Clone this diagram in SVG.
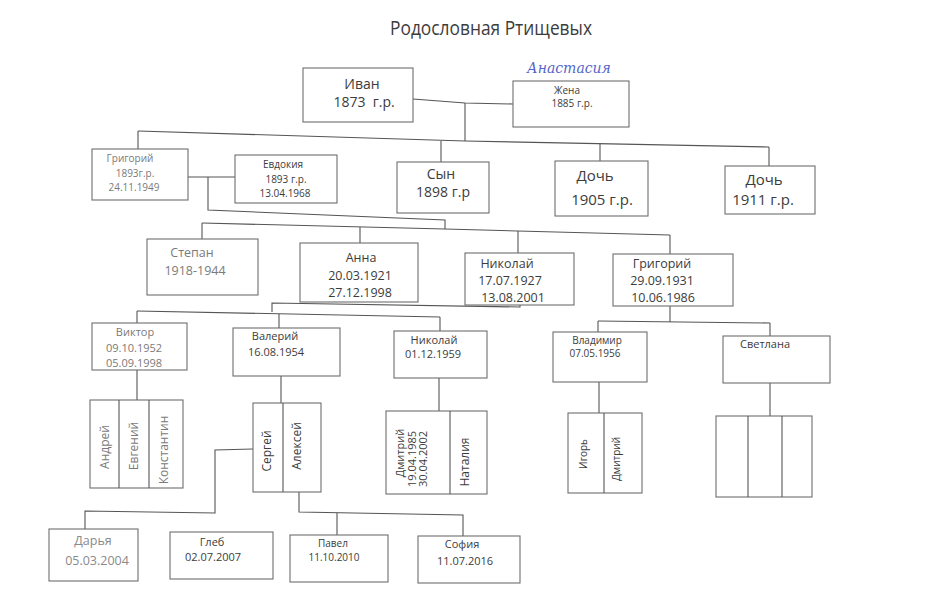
<svg xmlns="http://www.w3.org/2000/svg" width="945" height="593" viewBox="0 0 945 593">
<style>
  .box{fill:#fff;stroke:#6e6e6e;stroke-width:1.1}
  .ln{fill:none;stroke:#555;stroke-width:1.1}
  text{font-family:"Open Sans","Noto Sans","Liberation Sans",sans-serif;fill:#3c3c3c;text-anchor:middle}
  .lt text, text.lt{fill:#7a7a7a}
  .s10{font-size:10px}.s11{font-size:11px}.s12{font-size:12px}.s13{font-size:12.5px}.s14{font-size:14px}
</style>
<rect width="945" height="593" fill="#fff"/>
<text x="491" y="35" font-size="20" textLength="202" lengthAdjust="spacingAndGlyphs" fill="#333">Родословная Ртищевых</text>
<text x="569" y="73" font-size="14" font-style="italic" style="font-family:'DejaVu Serif','Liberation Serif',serif;fill:#5566c8">Анастасия</text>

<g id="connectors" class="ln">
  <polyline points="413,99 465,103 513,104"/>
  <line x1="465" y1="103" x2="465" y2="141"/>
  <polyline points="138,131 465,141 769,147"/>
  <line x1="138" y1="131" x2="138" y2="149"/>
  <line x1="441" y1="141" x2="441" y2="162"/>
  <line x1="600" y1="144" x2="600" y2="161"/>
  <line x1="769" y1="147" x2="769" y2="166"/>
  <line x1="188" y1="177" x2="235" y2="177"/>
  <polyline points="208,177 208,210 445,220 445,229"/>
  <polyline points="202,223 445,229 670,235"/>
  <line x1="202" y1="223" x2="202" y2="239"/>
  <line x1="360" y1="227" x2="360" y2="243"/>
  <line x1="518" y1="231" x2="518" y2="253"/>
  <line x1="670" y1="235" x2="670" y2="254"/>
  <polyline points="520,305 520,307 272,303 272,312"/>
  <line x1="137" y1="311" x2="440" y2="317"/>
  <line x1="137" y1="311" x2="137" y2="323"/>
  <line x1="279" y1="314" x2="279" y2="328"/>
  <line x1="440" y1="317" x2="440" y2="331"/>
  <line x1="670" y1="306" x2="670" y2="322"/>
  <line x1="598" y1="321" x2="770" y2="323"/>
  <line x1="598" y1="321" x2="598" y2="332"/>
  <line x1="770" y1="323" x2="770" y2="336"/>
  <line x1="137" y1="370" x2="137" y2="400"/>
  <line x1="281" y1="376" x2="281" y2="403"/>
  <line x1="439" y1="378" x2="439" y2="411"/>
  <line x1="599" y1="382" x2="599" y2="413"/>
  <line x1="770" y1="383" x2="770" y2="416"/>
  <polyline points="253,449 215,450 215,513 85,511 85,529"/>
  <polyline points="299,492 299,512 463,515 463,537"/>
  <line x1="337" y1="513" x2="337" y2="535"/>
</g>

<g id="ivan"><rect class="box" x="303" y="68" width="110" height="54"/>
  <text class="s14" x="362" y="89">Иван</text><text class="s14" x="364" y="107" xml:space="preserve">1873  г.р.</text></g>
<g id="zhena"><rect class="box" x="513" y="81" width="116" height="46"/>
  <text class="s10" x="567" y="94">Жена</text><text class="s10" x="572" y="107">1885 г.р.</text></g>

<g id="grigoriy1" class="lt"><rect class="box" x="92" y="149" width="96" height="51"/>
  <text class="s10" x="130" y="162">Григорий</text><text class="s10" x="135" y="177">1893г.р.</text><text class="s10" x="134" y="191">24.11.1949</text></g>
<g id="evdokiya"><rect class="box" x="235" y="155" width="102" height="48"/>
  <text class="s10" x="283" y="168">Евдокия</text><text class="s10" x="286" y="183">1893 г.р.</text><text class="s10" x="285" y="197">13.04.1968</text></g>
<g id="syn"><rect class="box" x="397" y="162" width="92" height="51"/>
  <text class="s14" x="441" y="179">Сын</text><text class="s14" x="443" y="197">1898 г.р</text></g>
<g id="doch1905"><rect class="box" x="555" y="161" width="93" height="55"/>
  <text font-size="15" x="595" y="181">Дочь</text><text font-size="15" x="602" y="205">1905 г.р.</text></g>
<g id="doch1911"><rect class="box" x="725" y="166" width="90" height="48"/>
  <text font-size="15" x="764" y="185">Дочь</text><text font-size="15" x="763" y="205">1911 г.р.</text></g>

<g id="stepan" class="lt"><rect class="box" x="147" y="239" width="111" height="56"/>
  <text class="s13" x="192" y="257">Степан</text><text class="s13" x="195" y="275">1918-1944</text></g>
<g id="anna"><rect class="box" x="300" y="243" width="118" height="59"/>
  <text class="s13" x="361" y="262">Анна</text><text class="s13" x="360" y="280">20.03.1921</text><text class="s13" x="360" y="297">27.12.1998</text></g>
<g id="nikolay1"><rect class="box" x="465" y="253" width="109" height="52"/>
  <text class="s13" x="507" y="268">Николай</text><text class="s13" x="510" y="285">17.07.1927</text><text class="s13" x="513" y="302">13.08.2001</text></g>
<g id="grigoriy2"><rect class="box" x="613" y="254" width="120" height="52"/>
  <text class="s13" x="662" y="268">Григорий</text><text class="s13" x="662" y="285">29.09.1931</text><text class="s13" x="663" y="302">10.06.1986</text></g>

<g id="viktor" class="lt"><rect class="box" x="92" y="323" width="95" height="47"/>
  <text class="s11" x="135" y="336">Виктор</text><text class="s11" x="134" y="352">09.10.1952</text><text class="s11" x="134" y="367">05.09.1998</text></g>
<g id="valeriy"><rect class="box" x="233" y="328" width="107" height="48"/>
  <text class="s11" x="275" y="340">Валерий</text><text class="s11" x="276" y="356">16.08.1954</text></g>
<g id="nikolay2"><rect class="box" x="394" y="331" width="93" height="47"/>
  <text class="s11" x="434" y="344">Николай</text><text class="s11" x="433" y="358">01.12.1959</text></g>
<g id="vladimir"><rect class="box" x="553" y="332" width="94" height="50"/>
  <text class="s10" x="597" y="344">Владимир</text><text class="s10" x="595" y="357">07.05.1956</text></g>
<g id="svetlana"><rect class="box" x="723" y="336" width="107" height="47"/>
  <text class="s11" x="765" y="348">Светлана</text></g>

<g id="viktor-kids" class="lt"><rect class="box" x="90" y="400" width="93" height="88"/>
  <line class="ln" x1="119" y1="400" x2="119" y2="488"/><line class="ln" x1="149" y1="400" x2="149" y2="488"/>
  <text class="s12" transform="translate(109,447) rotate(-90)">Андрей</text>
  <text class="s12" transform="translate(138,446) rotate(-90)">Евгений</text>
  <text class="s12" transform="translate(168,450) rotate(-90)">Константин</text></g>
<g id="valeriy-kids"><rect class="box" x="253" y="403" width="68" height="89"/>
  <line class="ln" x1="283" y1="403" x2="283" y2="492"/>
  <text class="s12" transform="translate(271,451) rotate(-90)">Сергей</text>
  <text class="s12" transform="translate(301,446) rotate(-90)">Алексей</text></g>
<g id="nikolay-kids"><rect class="box" x="386" y="411" width="101" height="83"/>
  <line class="ln" x1="450" y1="411" x2="450" y2="494"/>
  <text class="s11" transform="translate(404,453) rotate(-90)">Дмитрий</text>
  <text class="s11" transform="translate(416,459) rotate(-90)">19.04.1985</text>
  <text class="s11" transform="translate(427,459) rotate(-90)">30.04.2002</text>
  <text class="s12" transform="translate(469,462) rotate(-90)">Наталия</text></g>
<g id="vladimir-kids"><rect class="box" x="568" y="413" width="74" height="80"/>
  <line class="ln" x1="604" y1="413" x2="604" y2="493"/>
  <text class="s10" transform="translate(587,454) rotate(-90)">Игорь</text>
  <text class="s10" transform="translate(620,459) rotate(-90)">Дмитрий</text></g>
<g id="svetlana-kids"><rect class="box" x="716" y="416" width="96" height="81"/>
  <line class="ln" x1="748" y1="416" x2="748" y2="497"/><line class="ln" x1="782" y1="416" x2="782" y2="497"/></g>

<g id="darya"><rect class="box" x="49" y="529" width="89" height="52"/>
  <text class="s13" x="93" y="545" style="fill:#8a8a8a">Дарья</text><text class="s13" x="97" y="565" style="fill:#8a8a8a">05.03.2004</text></g>
<g id="gleb"><rect class="box" x="170" y="532" width="103" height="47"/>
  <text class="s11" x="212" y="546">Глеб</text><text class="s11" x="213" y="561">02.07.2007</text></g>
<g id="pavel"><rect class="box" x="290" y="535" width="98" height="47"/>
  <text class="s10" x="333" y="547">Павел</text><text class="s10" x="334" y="561">11.10.2010</text></g>
<g id="sofia"><rect class="box" x="418" y="536" width="102" height="47"/>
  <text class="s11" x="462" y="548">София</text><text class="s11" x="465" y="565">11.07.2016</text></g>
</svg>
